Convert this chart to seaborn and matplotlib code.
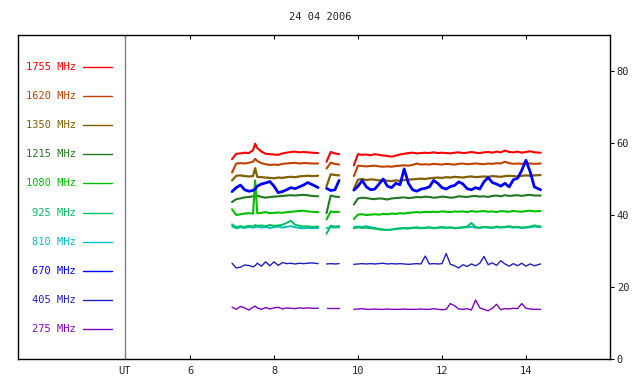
import matplotlib
matplotlib.use("Agg")
import matplotlib.pyplot as plt
import pandas as pd
import seaborn as sns

sns.set_style("white")
plt.rcParams['font.family'] = ['DejaVu Sans Mono']

# UT hours, three recording segments
times = [7.0, 7.1, 7.2, 7.3, 7.4, 7.5, 7.55, 7.6, 7.7, 7.8, 7.9, 8.0, 8.1, 8.2, 8.3, 8.4, 8.5, 8.6, 8.7, 8.8, 8.9, 9.05,
         9.25, 9.35, 9.45, 9.55,
         9.9, 10.0, 10.1, 10.2, 10.3, 10.4, 10.5, 10.6, 10.7, 10.8, 10.9,
         11.0, 11.1, 11.2, 11.3, 11.4, 11.5, 11.6, 11.7, 11.8, 11.9,
         12.0, 12.1, 12.2, 12.3, 12.4, 12.5, 12.6, 12.7, 12.8, 12.9,
         13.0, 13.1, 13.2, 13.3, 13.4, 13.5, 13.6, 13.7, 13.8, 13.9,
         14.0, 14.1, 14.2, 14.35]
segment = [0] * 22 + [1] * 4 + [2] * 45

v1755 = [55.5, 57.0, 57.1, 57.3, 57.2, 58.0, 59.8, 58.6, 57.6, 57.0, 56.9, 56.8, 56.7, 57.1, 57.3, 57.5, 57.6, 57.4, 57.5, 57.4, 57.3, 57.2,
         54.8, 57.5, 57.1, 56.9,
         53.8, 56.9, 56.7, 56.8, 56.6, 56.9, 56.7, 56.5, 56.4, 56.2, 56.5,
         56.8, 57.0, 57.2, 57.3, 57.1, 57.2, 57.3, 57.2, 57.4, 57.2,
         57.3, 57.2, 57.1, 57.3, 57.4, 57.2, 57.3, 57.5, 57.3, 57.2,
         57.4, 57.5, 57.3, 57.6, 57.4, 57.9, 57.5, 57.4, 57.6, 57.3,
         57.5, 57.7, 57.4, 57.3]
v1620 = [51.8, 54.3, 54.4, 54.3, 54.5, 54.8, 55.6, 55.0, 54.4, 54.1, 53.9, 54.0, 53.9, 54.2, 54.3, 54.4, 54.5, 54.3, 54.4, 54.4, 54.3, 54.3,
         52.9, 54.5, 54.2, 54.0,
         50.8, 53.7, 53.6, 53.5, 53.6, 53.7, 53.5, 53.4, 53.5, 53.4, 53.6,
         53.7, 53.8, 53.7, 53.9, 54.3, 54.0, 54.1, 54.0, 54.2, 54.1,
         54.0, 54.2, 54.1, 54.0, 54.2, 54.3, 54.1, 54.2, 54.3, 54.2,
         54.1, 54.3, 54.2, 54.4, 54.3, 54.8, 54.4, 54.2, 54.3, 54.2,
         54.4, 54.3, 54.2, 54.3]
v1350 = [49.6, 50.9, 51.0, 50.8, 50.7, 50.8, 53.0, 50.6, 50.5, 50.4, 50.3, 50.2, 50.4, 50.3, 50.5, 50.6, 50.5, 50.7, 50.8, 50.9, 50.8, 50.9,
         48.0, 51.3, 51.1, 51.0,
         47.2, 49.8, 50.0, 49.7, 49.9, 49.8, 49.6, 49.7, 49.5, 49.4, 49.6,
         49.5, 49.7, 49.8, 49.9, 50.0, 50.1, 50.0, 50.2, 50.3, 50.4,
         50.3, 50.5, 50.4, 50.6, 50.5, 50.4, 50.6, 50.7, 50.5, 50.6,
         50.7, 50.6, 50.8, 50.7, 50.6, 50.8, 50.9, 50.8, 50.7, 50.9,
         51.0, 50.9, 51.0, 51.1]
v1215 = [43.6, 44.4, 44.6, 44.9, 45.0, 45.2, 45.3, 45.4, 45.0, 44.8, 45.0, 45.1, 45.2, 45.3, 45.4, 45.5, 45.4, 45.5, 45.6, 45.5, 45.3, 45.2,
         40.5, 45.4, 45.1, 45.0,
         42.9, 44.6, 44.8, 44.7, 44.5, 44.4, 44.6, 44.5, 44.3, 44.6, 44.7,
         44.8, 44.9, 44.7, 44.8, 45.0, 44.9, 45.1, 45.0, 44.8, 44.9,
         45.1, 45.0, 44.8, 44.9, 45.2, 45.1, 45.0, 45.2, 45.3, 45.1,
         45.2, 45.0, 45.3, 45.4, 45.2, 45.5, 45.3, 45.4, 45.5, 45.3,
         45.5, 45.6, 45.4, 45.4]
v1080 = [41.6, 40.0, 40.2, 40.4, 40.5, 40.4, 49.6, 40.5, 40.6, 40.8, 40.5, 40.6, 40.7, 40.6, 40.8, 40.9, 41.0, 41.1, 41.2, 41.0, 40.9, 40.8,
         38.8, 41.0, 40.8, 40.9,
         38.9, 40.1, 40.2, 40.0, 40.1, 40.2, 40.1, 40.3, 40.2, 40.4, 40.3,
         40.5, 40.4, 40.6, 40.7, 40.8, 40.7, 40.9, 40.8, 40.9, 40.8,
         41.0, 40.9, 40.8, 41.0, 40.9, 41.0, 40.8, 41.1, 40.9, 41.0,
         41.1, 40.9, 41.0, 40.8, 41.1, 41.0, 40.9, 41.1, 41.0, 40.9,
         41.1, 41.2, 41.0, 41.1]
v925 = [37.4, 36.6, 36.9, 36.7, 37.0, 36.8, 37.2, 37.0, 37.1, 36.9, 37.2, 37.0, 37.1, 37.3, 37.8, 38.4, 37.3, 37.0, 36.8, 36.9, 36.7, 36.8,
        34.8, 37.0, 36.8, 36.9,
        36.3, 36.6, 36.4, 36.5, 36.3, 36.2, 36.0, 35.9, 35.8, 36.0, 36.2,
        36.3, 36.4, 36.3, 36.5, 36.6, 36.4, 36.5, 36.6, 36.4, 36.5,
        36.7, 36.5, 36.6, 36.4, 36.5, 36.6, 36.8, 37.8, 36.6, 36.5,
        36.7, 36.6, 36.5, 36.8, 36.6, 36.7, 36.9, 36.6, 36.7, 36.5,
        36.6, 36.8, 37.1, 36.8]
v810 = [36.8, 36.3, 36.6, 36.4, 36.7, 36.5, 36.6, 36.8, 36.5, 36.7, 36.4, 36.6, 36.8, 36.5, 36.7, 36.9, 36.6, 36.4, 36.3, 36.4, 36.3, 36.4,
        36.4, 36.6, 36.5, 36.6,
        36.6, 36.8, 36.7, 36.9, 36.6, 36.4, 36.1, 36.0, 35.9, 35.9, 36.1,
        36.2, 36.3, 36.2, 36.4, 36.4, 36.3, 36.4, 36.5, 36.3, 36.4,
        36.5, 36.4, 36.5, 36.3, 36.4, 36.5, 36.6, 36.7, 36.5, 36.4,
        36.6, 36.5, 36.4, 36.6, 36.5, 36.6, 36.7, 36.5, 36.6, 36.4,
        36.5, 36.6, 36.8, 36.6]
v670 = [46.5, 47.6, 48.3, 47.0, 46.6, 46.8, 47.2, 48.0, 48.6, 48.9, 49.3, 48.0, 46.2, 46.5, 47.0, 47.6, 47.3, 47.8, 48.3, 49.0, 48.5, 47.6,
        47.4, 46.8, 47.0, 49.6,
        46.9, 48.0, 49.6, 47.8, 47.0, 47.2, 48.6, 50.0, 48.0, 47.6, 48.8,
        48.4, 52.8, 48.8, 47.0, 46.6, 47.2, 47.4, 47.8, 49.6, 48.8,
        47.6, 47.2, 47.9, 48.2, 49.2, 48.6, 47.3, 47.0, 47.6, 47.2,
        49.2, 50.4, 49.0, 48.6, 48.0, 48.8, 47.8, 49.8, 50.2, 52.4,
        55.2, 52.0, 47.8, 47.0]
v405 = [26.6, 25.3, 25.5, 26.1, 26.0, 25.6, 25.9, 26.6, 25.8, 27.0, 25.9, 27.0, 26.0, 26.8, 26.5, 26.6, 26.4, 26.6, 26.5, 26.6, 26.7, 26.5,
        26.4, 26.5, 26.4, 26.5,
        26.3, 26.4, 26.5, 26.4, 26.5, 26.4, 26.5, 26.6, 26.4, 26.5, 26.4,
        26.5, 26.4, 26.3, 26.4, 26.5, 26.4, 28.6, 26.4, 26.5, 26.4,
        26.5, 29.3, 26.3, 25.9, 25.3, 26.2, 25.7, 26.4, 25.9, 26.6,
        28.5, 26.2, 26.7, 26.0, 27.3, 26.4, 25.8, 26.5, 25.9, 26.6,
        25.8, 26.4, 25.9, 26.4]
v275 = [14.4, 13.8, 14.6, 14.2, 13.6, 14.4, 14.7, 14.2, 13.8, 14.3, 13.9, 14.2, 14.4, 13.9, 14.2, 14.1, 14.0, 14.2, 14.1, 14.2, 14.1, 14.1,
        14.1, 14.1, 14.1, 14.1,
        13.8, 13.9, 14.0, 13.8, 13.8, 13.9, 13.8, 13.8, 13.9, 13.8, 13.8,
        13.8, 13.9, 13.8, 13.8, 13.8, 13.9, 13.8, 13.8, 14.0, 13.8,
        13.7, 13.8, 15.4, 14.8, 13.9, 13.8, 14.0, 13.6, 16.4, 14.2,
        13.8, 13.4, 14.1, 15.2, 13.7, 14.0, 13.9, 14.1, 14.0, 15.4,
        14.1, 13.9, 13.8, 13.8]

labels = ['1755 MHz', '1620 MHz', '1350 MHz', '1215 MHz', '1080 MHz',
          '925 MHz', '810 MHz', '670 MHz', '405 MHz', '275 MHz']
colors = ['#ff0000', '#c04000', '#806000', '#207820', '#00c000',
          '#00c060', '#00c0c0', '#0000ff', '#2020c0', '#8000c0']
widths = [1.5, 1.5, 1.6, 1.5, 1.5, 1.4, 1.4, 2.0, 1.0, 1.0]
values = [v1755, v1620, v1350, v1215, v1080, v925, v810, v670, v405, v275]

fig, ax = plt.subplots(figsize=(6.4, 3.84), dpi=100)
fig.subplots_adjust(left=0.028, right=0.953, bottom=0.065, top=0.909)

for i, (lab, vals, col, lw) in enumerate(zip(labels, values, colors, widths)):
    d = pd.DataFrame({'t': times, 'v': vals, 'seg': segment})
    z = 2.5 if lab == '925 MHz' else 2
    sns.lineplot(data=d, x='t', y='v', units='seg', estimator=None, color=col,
                 lw=lw, ax=ax, legend=False, zorder=z)
    ly = 0.901 - 0.0898 * i
    ax.plot([0.110, 0.159], [ly, ly], transform=ax.transAxes, color=col, lw=1)
    ax.text(0.098, ly, lab, transform=ax.transAxes, ha='right', va='center',
            color=col, fontsize=7.5)

ax.axvline(4.45, color='#808080', lw=1)

ax.set_xlim(1.9, 16.0)
ax.set_ylim(0, 90)
ax.set_xticks([4.45, 6, 8, 10, 12, 14])
ax.set_xticklabels(['UT', '6', '8', '10', '12', '14'])
ax.set_yticks([0, 20, 40, 60, 80])
ax.yaxis.tick_right()
ax.tick_params(axis='x', direction='in', length=3, top=True, bottom=True,
               labelsize=7.5, pad=5, color='black')
ax.tick_params(axis='y', direction='out', length=3, right=True, left=False,
               labelsize=7.5, pad=2, color='black')
ax.set_xlabel('')
ax.set_ylabel('')
for sp in ax.spines.values():
    sp.set_color('black')
    sp.set_linewidth(1)

fig.text(0.5, 0.956, '24 04 2006', ha='center', va='center', fontsize=7.5)

fig.savefig('out.png', dpi=100)
